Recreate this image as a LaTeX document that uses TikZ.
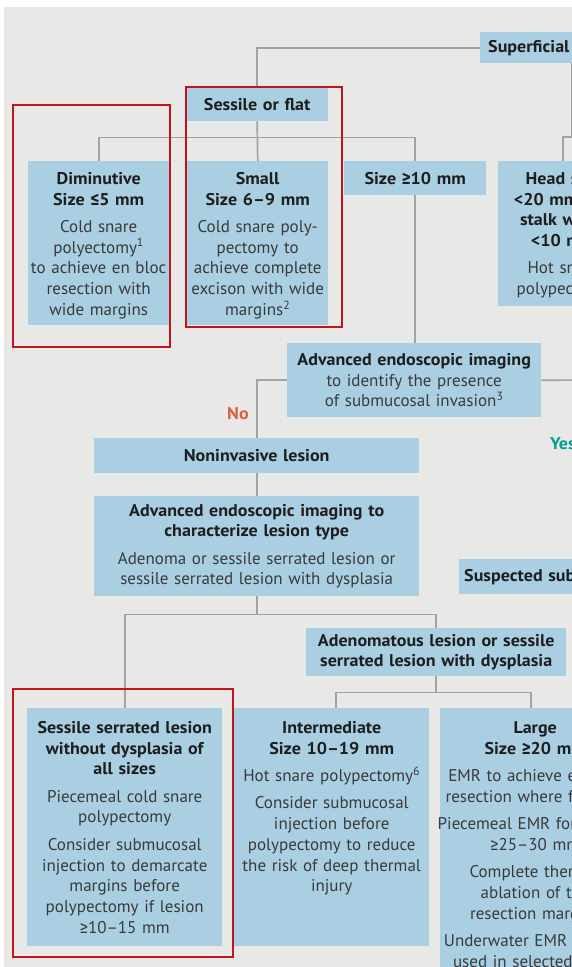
\documentclass[tikz,border=0pt]{standalone}
\usepackage{fontspec}
\setmainfont{PT Sans}[BoldFeatures={FakeStretch=1.06}]
\newfontfamily\symfont{Fira Sans}
\definecolor{bgGray}{HTML}{E8E8E6}
\definecolor{boxBlue}{HTML}{AACFE3}
\definecolor{lineGray}{HTML}{A2A2A2}
\definecolor{frameRed}{HTML}{C4121E}
\definecolor{headInk}{HTML}{1E1E1E}
\definecolor{bodyInk}{HTML}{3A3A3A}
\definecolor{noRed}{HTML}{DE5F3C}
\definecolor{yesTeal}{HTML}{00A08C}
\newcommand{\boxhead}[1]{{\bfseries\color{headInk}#1}}
\newcommand{\gesym}{{\symfont ≥}}
\newcommand{\lesym}{{\symfont ≤}}
\begin{document}
\begin{tikzpicture}[x=1pt, y=-1pt,
		box/.style={fill=boxBlue, anchor=north west, align=center, inner xsep=2pt, inner ysep=0pt,
			text=bodyInk, font=\fontsize{17}{20.8}\selectfont},
		link/.style={draw=lineGray, line width=1.7pt},
		redframe/.style={draw=frameRed, line width=1.6pt},
		answer/.style={font=\fontsize{17}{20}\selectfont\bfseries, inner sep=0pt}]
		% 画布
		\useasboundingbox (0,0) rectangle (572,967);
		\clip (0,0) rectangle (572,967);
		\fill[white] (0,0) rectangle (572,967);
		\fill[bgGray] (4.4,6.7) rectangle (580,980);
		
		% 第一层
		\node[box, minimum width=200pt, minimum height=31pt, text width=184pt, inner xsep=8pt, align=left] (sup) at (480,32) {\boxhead{Superficial lesion}};
		\node[box, minimum width=142pt, minimum height=34pt, text width=138pt] (sess) at (186,87) {\boxhead{Sessile or flat}};
		
		% 第二层
		\node[box, text width=137pt, text height=23pt, text depth=141pt] (dim) at (28,161)
			{\boxhead{Diminutive\\Size \lesym5 mm}\\[6.5pt]Cold snare\\polyectomy\textsuperscript{1}\\to achieve en bloc\\resection with\\wide margins};
		\node[box, text width=137pt, text height=23pt, text depth=141pt] (small) at (187,161)
			{\boxhead{Small\\Size 6–9 mm}\\[6.5pt]Cold snare poly-\\pectomy to\\achieve complete\\excison with wide\\margins\textsuperscript{2}};
		\node[box, minimum width=142pt, minimum height=34pt, text width=138pt] (ge10) at (344,161) {\boxhead{Size \gesym10 mm}};
		\node[box, text width=126pt, text height=23pt, text depth=122pt] (head) at (498,161)
			{\boxhead{Head size\\<20 mm and\\stalk width\\<10 mm}\\[6.5pt]Hot snare\\polypectomy};
		
		% 侵袭判断
		\node[box, minimum width=254pt, minimum height=74pt, text width=250pt] (adv) at (287,343)
			{\boxhead{Advanced endoscopic imaging}\\to identify the presence\\of submucosal invasion\textsuperscript{3}};
		\node[box, minimum width=325pt, minimum height=35pt, text width=321pt] (noninv) at (94,438) {\boxhead{Noninvasive lesion}};
		\node[box, minimum width=325pt, minimum height=100pt, text width=321pt] (adv2) at (94,496)
			{\boxhead{Advanced endoscopic imaging to\\characterize lesion type}\\[6.5pt]Adenoma or sessile serrated lesion or\\sessile serrated lesion with dysplasia};
		\node[box, minimum height=35pt, text width=270pt, inner xsep=5pt, align=left] (susp) at (459,559)
			{\boxhead{Suspected submucosal invasion}};
		\node[box, minimum width=260pt, minimum height=48pt, text width=256pt] (adenom) at (306,628)
			{\boxhead{Adenomatous lesion or sessile\\serrated lesion with dysplasia}};
		
		% 最下层
		\node[box, text width=191pt, text height=25pt, text depth=213pt] (ssl) at (27,708)
			{\boxhead{Sessile serrated lesion\\without dysplasia of\\all sizes}\\[6.5pt]Piecemeal cold snare\\polypectomy\\[6.5pt]Consider submucosal\\injection to demarcate\\margins before\\polypectomy if lesion\\\gesym10–15 mm};
		\node[box, text width=191pt, text height=25pt, text depth=213pt] (inter) at (234,708)
			{\boxhead{Intermediate\\Size 10–19 mm}\\[6.5pt]Hot snare polypectomy\textsuperscript{6}\\[6.5pt]Consider submucosal\\injection before\\polypectomy to reduce\\the risk of deep thermal\\injury};
		\node[box, text width=190pt, inner xsep=0pt, text height=25pt, text depth=250pt] (large) at (440,708)
			{\boxhead{Large\\Size \gesym20 mm}\\[6.5pt]EMR to achieve en bloc\\resection where feasible\\[6.5pt]\makebox[0pt]{Piecemeal EMR for lesions}\\\gesym25–30 mm\\[6.5pt]Complete thermal\\ablation of the\\resection margins\\[6.5pt]Underwater EMR may be\\used in selected cases};
		
		% 连线
		\coordinate (sessfork) at ([yshift=-16pt]sess.south);
		\coordinate (pedfork) at (572,137);
		\coordinate (yesturn) at (600,380);
		\coordinate (adv2fork) at ([yshift=-18pt]adv2.south);
		\coordinate (adenomfork) at ([yshift=-16pt]adenom.south);
		\draw[link] (sup.west) -| (sess.north);
		\draw[link] (sess.south) -- (small.north);
		\draw[link] (dim.north) |- (sessfork) -| (ge10.north);
		\draw[link] (head.north) |- (pedfork) -- (pedfork |- sup.south);
		\draw[link] (ge10.south) -- (ge10.south |- adv.north);
		\draw[link] (adv.west) -| (noninv.north);
		\draw[link] (adv.east) -- (yesturn);
		\draw[link] (noninv.south) -- (adv2.north);
		\draw[link] (adv2.south) -- (adv2fork);
		\draw[link] (ssl.north) |- (adv2fork) -| (adenom.north);
		\draw[link] (adenom.south) -- (adenomfork);
		\draw[link] ([xshift=4.5pt]inter.north) |- (adenomfork) -| ([xshift=-4.5pt]large.north);
		
		% 是/否
		\node[answer, text=noRed] (nolab) at (238,414) {No};
		\node[answer, text=yesTeal, anchor=west] (yeslab) at (550,444) {Yes};
		
		% 红框
		\draw[redframe] (13,105) rectangle (170,347);
		\draw[redframe] (186,87) rectangle (342,327);
		\draw[redframe] (13,689) rectangle (233,957);
	\end{tikzpicture}
\end{document}
